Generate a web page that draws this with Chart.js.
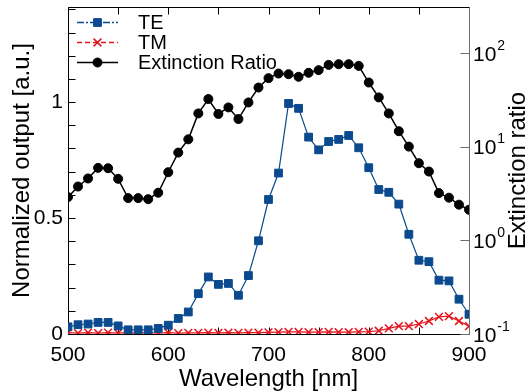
<!DOCTYPE html>
<html>
<head>
<meta charset="utf-8">
<script src="https://cdn.jsdelivr.net/npm/chart.js@4.4.1/dist/chart.umd.min.js"></script>
<style>
  html, body { margin: 0; padding: 0; background: #fff; }
  #wrap { width: 531px; height: 391px; }
</style>
</head>
<body>
<div id="wrap"><canvas id="chart"></canvas></div>
<script>
// data
const wavelength = [500, 510, 520, 530, 540, 550, 560, 570, 580, 590,
                    600, 610, 620, 630, 640, 650, 660, 670, 680, 690,
                    700, 710, 720, 730, 740, 750, 760, 770, 780, 790,
                    800, 810, 820, 830, 840, 850, 860, 870, 880, 890, 900];
const teOutput = [0.031, 0.040, 0.043, 0.050, 0.050, 0.035, 0.018, 0.018, 0.018, 0.024,
                  0.038, 0.067, 0.095, 0.174, 0.246, 0.214, 0.218, 0.167, 0.252, 0.402,
                  0.580, 0.694, 0.994, 0.973, 0.849, 0.794, 0.830, 0.839, 0.856, 0.803,
                  0.717, 0.623, 0.611, 0.560, 0.430, 0.318, 0.312, 0.232, 0.229, 0.150, 0.085];
const tmOutput = [0.006, 0.004, 0.006, 0.004, 0.006, 0.004, 0.006, 0.004, 0.006, 0.004,
                  0.006, 0.004, 0.005, 0.005, 0.006, 0.005, 0.006, 0.005, 0.006, 0.006,
                  0.007, 0.008, 0.009, 0.009, 0.008, 0.008, 0.009, 0.008, 0.008, 0.009,
                  0.010, 0.014, 0.024, 0.034, 0.034, 0.043, 0.056, 0.074, 0.077, 0.056, 0.034];
const extinctionRatio = [2.89, 3.75, 4.57, 5.93, 5.88, 4.53, 2.82, 2.82, 2.75, 3.22,
                         5.33, 8.63, 11.96, 22.6, 32.2, 22.3, 26.2, 19.7, 29.6, 42.7,
                         53.8, 60.2, 59.3, 55.6, 61.3, 65.5, 74.5, 75.8, 75.8, 72.7,
                         48.3, 33.5, 22.6, 14.6, 10.0, 6.65, 5.42, 3.19, 2.85, 2.40, 2.12];

// ticks
const wavelengthTicks = [500, 600, 700, 800, 900];
const wavelengthMarks = [500, 550, 600, 650, 700, 750, 800, 850, 900];
const outputTicks = [0, 0.5, 1];
const outputMarks = [0, 0.1, 0.2, 0.3, 0.4, 0.5, 0.6, 0.7, 0.8, 0.9, 1.0, 1.1, 1.2, 1.3, 1.4];
const ratioTicks = [0.1, 1, 10, 100];
const ratioExponents = ['-1', '0', '1', '2'];

const FONT = 'Liberation Sans, Arial, sans-serif';
const BLUE = '#0b4a8e';
const RED = '#e3151c';

const xy = (vals) => wavelength.map((w, i) => ({ x: w, y: vals[i] }));

// box, inward ticks, right axis labels and title, legend
const frame = {
  id: 'frame',
  beforeDatasetsDraw(chart) {
    const { ctx, chartArea: a, scales } = chart;
    const L = Math.round(a.left) + 0.5, R = Math.round(a.right) + 0.5;
    const T = Math.round(a.top) + 0.5, B = Math.round(a.bottom) + 0.5;
    ctx.save();
    ctx.lineWidth = 1;
    ctx.strokeStyle = '#000';
    ctx.beginPath();
    wavelengthMarks.forEach(v => {
      const px = Math.round(scales.x.getPixelForValue(v)) + 0.5;
      ctx.moveTo(px, B); ctx.lineTo(px, B - 7);
      ctx.moveTo(px, T); ctx.lineTo(px, T + 7);
    });
    outputMarks.forEach(v => {
      const py = Math.round(scales.y.getPixelForValue(v)) + 0.5;
      ctx.moveTo(L, py); ctx.lineTo(L + 7, py);
    });
    ctx.moveTo(L, T); ctx.lineTo(L, B);
    ctx.moveTo(L, T); ctx.lineTo(R, T);
    ctx.moveTo(L, B); ctx.lineTo(R, B);
    ctx.stroke();

    ctx.strokeStyle = '#6e6e6e';
    ctx.beginPath();
    ratioTicks.forEach(v => {
      const py = Math.round(scales.y2.getPixelForValue(v)) + 0.5;
      ctx.moveTo(R, py); ctx.lineTo(R - 9, py);
    });
    ctx.moveTo(R, T); ctx.lineTo(R, B);
    ctx.stroke();

    // right tick labels: 10 with superscript
    ctx.fillStyle = '#000';
    ctx.textBaseline = 'middle';
    ctx.textAlign = 'left';
    ratioTicks.forEach((v, i) => {
      const py = scales.y2.getPixelForValue(v);
      ctx.font = '21px ' + FONT;
      ctx.fillText('10', a.right + 4, py + 2);
      const w = ctx.measureText('10').width;
      ctx.font = '14px ' + FONT;
      ctx.fillText(ratioExponents[i], a.right + 5 + w, py - 7);
    });

    // right title, reading bottom to top
    ctx.font = '24px ' + FONT;
    ctx.textAlign = 'center';
    ctx.translate(518, (a.top + a.bottom) / 2);
    ctx.rotate(-Math.PI / 2);
    ctx.fillText('Extinction ratio', 0, 0);
    ctx.restore();
  },
  afterDatasetsDraw(chart) {
    const { ctx } = chart;
    const rows = [22.5, 42.5, 62.5];
    const dashes = [[7, 2, 2, 2], [5, 3], []];
    ctx.save();
    chart.data.datasets.forEach((ds, i) => {
      const y = rows[i];
      ctx.strokeStyle = ds.borderColor;
      ctx.lineWidth = 1.3;
      ctx.setLineDash(dashes[i]);
      ctx.beginPath();
      ctx.moveTo(77, y); ctx.lineTo(118, y);
      ctx.stroke();
      ctx.setLineDash([]);
      ctx.fillStyle = ds.pointBackgroundColor;
      ctx.strokeStyle = ds.pointBorderColor;
      ctx.lineWidth = ds.pointBorderWidth;
      Chart.helpers.drawPoint(ctx, { pointStyle: ds.pointStyle, radius: ds.pointRadius, borderWidth: ds.pointBorderWidth, rotation: 0 }, 97.5, y);
      ctx.fillStyle = '#000';
      ctx.font = '20px ' + FONT;
      ctx.textAlign = 'left';
      ctx.textBaseline = 'middle';
      ctx.fillText(ds.label, 138, y + 1);
    });
    ctx.restore();
  }
};

const noPad = s => { s.paddingTop = 0; s.paddingBottom = 0; };

new Chart(document.getElementById('chart'), {
  type: 'line',
  data: {
    datasets: [
      {
        label: 'TE', data: xy(teOutput), yAxisID: 'y',
        borderColor: BLUE, borderWidth: 1.2,
        pointStyle: 'rect', pointRadius: 5.5, pointBorderWidth: 1,
        pointBackgroundColor: BLUE, pointBorderColor: BLUE
      },
      {
        label: 'TM', data: xy(tmOutput), yAxisID: 'y',
        borderColor: RED, borderWidth: 1.2,
        pointStyle: 'crossRot', pointRadius: 5.5, pointBorderWidth: 1.5,
        pointBackgroundColor: RED, pointBorderColor: RED
      },
      {
        label: 'Extinction Ratio', data: xy(extinctionRatio), yAxisID: 'y2',
        borderColor: '#000', borderWidth: 1.5,
        pointStyle: 'circle', pointRadius: 4.5, pointBorderWidth: 1,
        pointBackgroundColor: '#000', pointBorderColor: '#000'
      }
    ]
  },
  options: {
    responsive: true,
    maintainAspectRatio: false,
    animation: false,
    layout: { padding: { top: 6, left: 0, right: 0, bottom: 0 } },
    plugins: { legend: { display: false }, tooltip: { enabled: false } },
    elements: { line: { tension: 0 } },
    scales: {
      x: {
        type: 'linear', position: 'bottom', min: 500, max: 900,
        afterBuildTicks: s => { s.ticks = wavelengthTicks.map(v => ({ value: v })); },
        afterFit: s => { s.height = 57; s.paddingLeft = 0; s.paddingRight = 0; },
        grid: { display: false, drawTicks: false },
        border: { display: false },
        ticks: { color: '#000', padding: 11, maxRotation: 0, font: { family: FONT, size: 21, lineHeight: 1 } },
        title: { display: true, text: 'Wavelength [nm]', color: '#000', padding: { top: 0, bottom: 0 },
                 font: { family: FONT, size: 24, lineHeight: 1 } }
      },
      y: {
        type: 'linear', position: 'left', min: 0, max: 1.41,
        afterBuildTicks: s => { s.ticks = outputTicks.map(v => ({ value: v })); },
        afterFit: s => { s.width = 68; noPad(s); },
        grid: { display: false, drawTicks: false },
        border: { display: false },
        ticks: { color: '#000', padding: 5, callback: v => String(v), font: { family: FONT, size: 21, lineHeight: 1 } },
        title: { display: true, text: 'Normalized output [a.u.]', color: '#000', padding: { top: 10, bottom: 0 },
                 font: { family: FONT, size: 24, lineHeight: 1 } }
      },
      y2: {
        type: 'logarithmic', position: 'right', min: 0.1, max: 309,
        afterBuildTicks: s => { s.ticks = ratioTicks.map(v => ({ value: v })); },
        afterFit: s => { s.width = 62; noPad(s); },
        grid: { display: false, drawTicks: false },
        border: { display: false },
        ticks: { display: false }
      }
    }
  },
  plugins: [frame]
});
</script>
</body>
</html>
